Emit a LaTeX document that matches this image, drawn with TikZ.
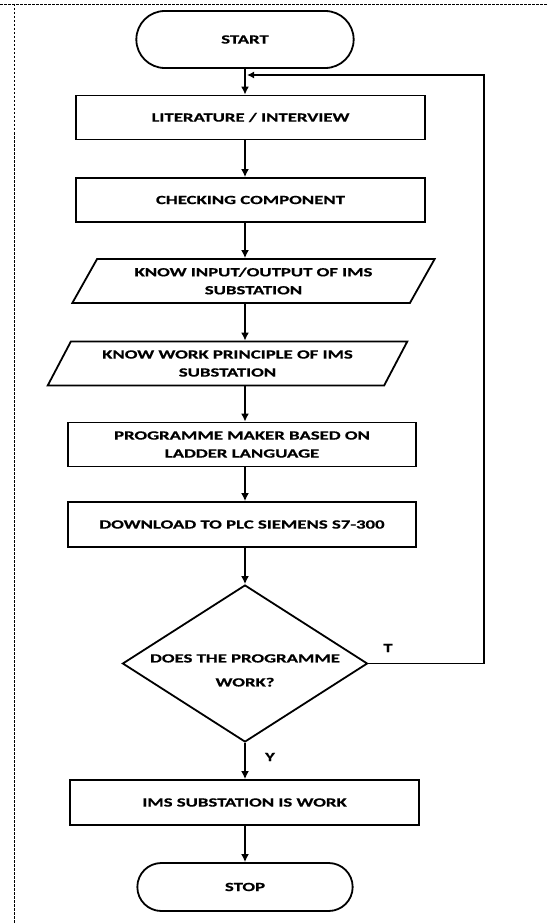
\documentclass[tikz,border=0pt]{standalone}
\usepackage{fontspec}
\usepackage{tikz}
\usetikzlibrary{shapes.geometric,shapes.misc,arrows.meta}
\newfontfamily\flowfont{Carlito}[FakeStretch=1.5,FakeBold=0.6]

\begin{document}
\begin{tikzpicture}[x=1pt,y=-1pt,
  every node/.style={font=\flowfont\bfseries\fontsize{12.5}{18}\selectfont},
  term/.style={draw, line width=1.8pt, rounded rectangle, minimum width=224pt, minimum height=57pt},
  box/.style={draw, line width=1.8pt, rectangle, minimum width=349pt, minimum height=44pt, align=center},
  io/.style={draw, line width=1.8pt, trapezium, trapezium left angle=60, trapezium right angle=120,
    trapezium stretches=true, minimum width=363pt, minimum height=44pt, align=center},
  dec/.style={draw, line width=1.8pt, diamond, aspect=1.56, inner sep=-6pt,
    minimum width=245pt, minimum height=157pt, align=center},
  arr/.style={-{Latex[length=8pt,width=8pt]}, line width=2.4pt},
  cellline/.style={dash pattern=on 2.5pt off 1.5pt, line width=0.6pt}]
\useasboundingbox (0,0) rectangle (548,923);
\draw [cellline] (0,4) -- (548,4);
\draw [cellline] (14,4) -- (14,923);

\node [term] (start) at (245,39.5) {START};
\node [box] (lit) at (250.5,117.5) {LITERATURE / INTERVIEW};
\node [box] (check) at (250.5,200) {CHECKING COMPONENT};
\node [io] (in) at (253.5,281) {KNOW INPUT/OUTPUT OF IMS\\SUBSTATION};
\node [io, minimum width=361pt] (work) at (227.5,363.5) {KNOW WORK PRINCIPLE OF IMS\\SUBSTATION};
\node [box, minimum width=348pt] (prog) at (242,444.5) {PROGRAMME MAKER BASED ON\\LADDER LANGUAGE};
\node [box, minimum width=348pt, minimum height=45pt] (load) at (242,524.5) {DOWNLOAD TO PLC SIEMENS S7-300};
\node [dec] (work?) at (245,663.5) {\rule{0pt}{22pt}DOES THE PROGRAMME\\[6pt]WORK?};
\node [box, minimum height=45pt] (ims) at (244.5,802.5) {IMS SUBSTATION IS WORK};
\node [term, minimum width=222pt, minimum height=48pt] (stop) at (245,887) {STOP};
\node (t) at (388,648) {T};
\node (y) at (270,757) {Y};
\coordinate (join) at (247,75);
\coordinate (back) at (484,75);

\draw [arr] (start.south) -- (lit.north -| start);
\draw [arr] (lit.south -| start) -- (check.north -| start);
\draw [arr] (check.south -| start) -- (in.north -| start);
\draw [arr] (in.south -| start) -- (work.north -| start);
\draw [arr] (work.south -| start) -- (prog.north -| start);
\draw [arr] (prog.south -| start) -- (load.north -| start);
\draw [arr] (load.south -| start) -- (work?.north);
\draw [arr] (work?.south) -- (ims.north -| start);
\draw [arr] (ims.south -| start) -- (stop.north);
\draw [line width=1.8pt, -{Latex[length=7pt,width=7pt]}] (work?.east) -| (back) -- (join);
\end{tikzpicture}
\end{document}
